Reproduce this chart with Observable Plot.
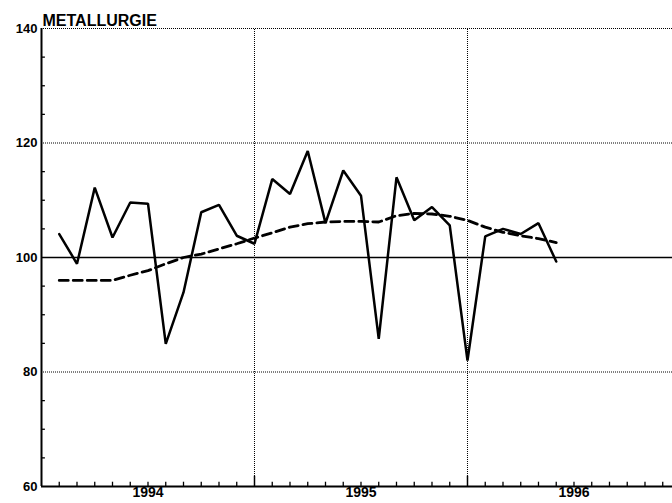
<!DOCTYPE html>
<html>
<head>
<meta charset="utf-8">
<script src="https://cdn.jsdelivr.net/npm/d3@7"></script>
<script src="https://cdn.jsdelivr.net/npm/@observablehq/plot@0.6"></script>
<style>
  html, body { margin: 0; padding: 0; background: white; }
  #chart svg text { font-weight: bold; }
</style>
</head>
<body>
<div id="chart"></div>
<script>
// Month offsets from January 1994 (0 = start of 1994)
const months = [1,2,3,4,5,6,7,8,9,10,11,12,13,14,15,16,17,18,19,20,21,22,23,24,25,26,27,28,29];
// Monthly index (solid line)
const indexValues = [104.1, 98.9, 112.2, 103.5, 109.6, 109.4, 84.9, 93.9, 107.9, 109.2, 103.8, 102.4,
                     113.7, 111.1, 118.6, 106.0, 115.2, 110.8, 85.8, 114.0, 106.5, 108.8, 105.6, 82.0,
                     103.7, 105.0, 104.1, 106.0, 99.3];
// Trend (dashed line)
const trendValues = [96.0, 96.0, 96.0, 96.0, 96.9, 97.7, 98.9, 100.0, 100.6, 101.5, 102.4, 103.4,
                     104.3, 105.3, 105.9, 106.2, 106.3, 106.3, 106.2, 107.3, 107.7, 107.6, 107.2, 106.5,
                     105.3, 104.4, 103.8, 103.3, 102.6];
const yearLabels = ["1994", "1995", "1996"];
const yTicks = [60, 80, 100, 120, 140];
const title = "METALLURGIE";

const series = months.map((m, i) => ({m, index: indexValues[i], trend: trendValues[i]}));
const yearMid = yearLabels.map((_, i) => i * 12 + 6);
const yearBounds = [12, 24];
const monthTicks = d3.range(0, 36).filter(m => m % 12 !== 0);
const minorY = d3.range(65, 140, 5).filter(v => v % 20 !== 0);

const chart = Plot.plot({
  width: 672,
  height: 503,
  marginLeft: 41,
  marginRight: 0,
  marginTop: 28,
  marginBottom: 17,
  style: {fontFamily: "'Liberation Sans', Arial, sans-serif", background: "white", color: "black"},
  x: {domain: [0, 35.55]},
  y: {domain: [60, 140]},
  marks: [
    Plot.ruleY([80, 120, 140], {stroke: "black", strokeWidth: 1, strokeDasharray: "1,1"}),
    Plot.ruleX(yearBounds, {y1: 60, y2: 140, stroke: "black", strokeWidth: 1, strokeDasharray: "1,1"}),
    Plot.ruleY([100], {stroke: "black", strokeWidth: 1.6}),
    // month ticks on bottom axis
    Plot.ruleX(monthTicks, {y1: 60, y2: 60.75, stroke: "black", strokeWidth: 1.3}),
    Plot.ruleX(yearBounds, {y1: 60, y2: 61.8, stroke: "black", strokeWidth: 1.5}),
    // minor ticks on left axis
    Plot.ruleY(minorY, {x1: 0, x2: 0.22, stroke: "black", strokeWidth: 1.3}),
    // axis lines
    Plot.ruleX([0], {y1: 60, y2: 140, stroke: "black", strokeWidth: 2}),
    Plot.ruleY([60], {stroke: "black", strokeWidth: 2}),
    // data
    Plot.line(series, {x: "m", y: "trend", stroke: "black", strokeWidth: 2.8, strokeDasharray: "9,5"}),
    Plot.line(series, {x: "m", y: "index", stroke: "black", strokeWidth: 2.5, strokeLinejoin: "miter"}),
    // axes
    Plot.axisY({ticks: yTicks, tickSize: 0, tickPadding: 4, label: null, fontSize: 13, tickFormat: d => String(d)}),
    Plot.axisX({ticks: yearMid, tickSize: 0, tickPadding: 1, label: null, fontSize: 14,
                tickFormat: d => yearLabels[(d - 6) / 12]}),
    // title
    Plot.text([title], {frameAnchor: "top-left", lineAnchor: "bottom", dx: 1, dy: -3, text: d => d, fontSize: 16, textAnchor: "start"})
  ]
});
document.getElementById("chart").appendChild(chart);
</script>
</body>
</html>
